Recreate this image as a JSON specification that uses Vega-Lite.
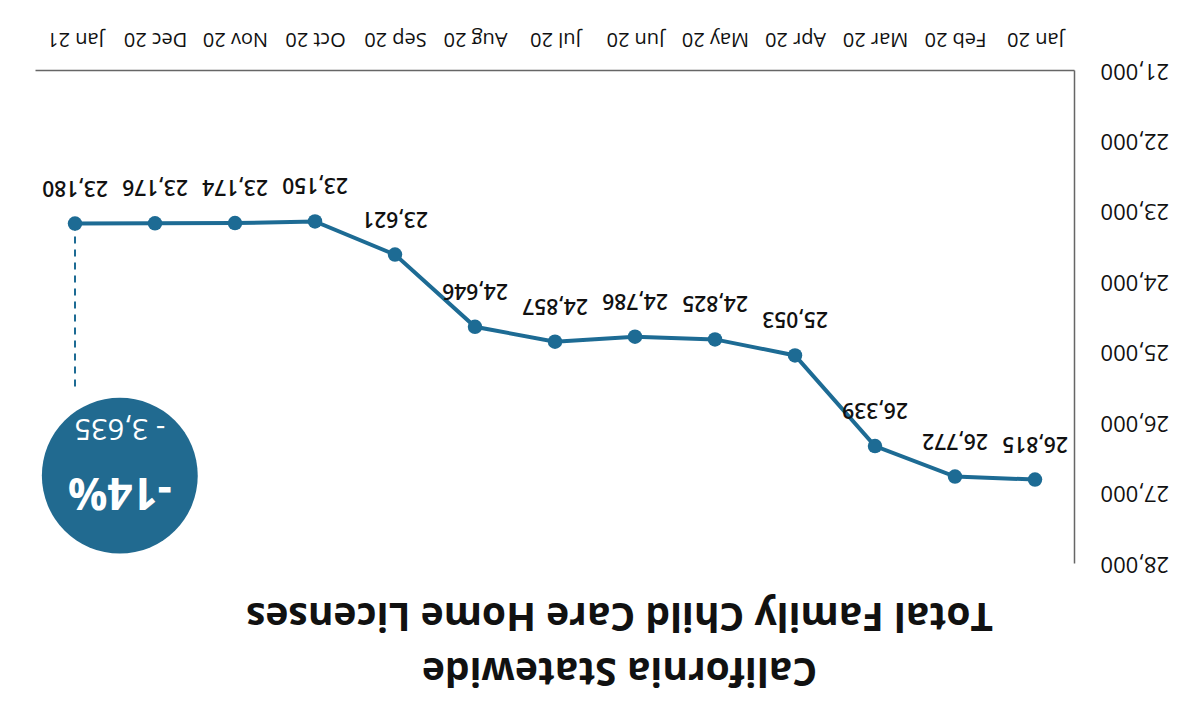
{
  "$schema": "https://vega.github.io/schema/vega-lite/v6.json",
  "width": 1039,
  "height": 493,
  "autosize": "none",
  "padding": {"left": 35, "top": 70, "right": 129, "bottom": 157},
  "background": "white",
  "config": {"view": {"stroke": null}, "font": "Open Sans"},
  "title": {
    "text": ["California Statewide", "Total Family Child Care Home Licenses"],
    "orient": "bottom",
    "angle": 180,
    "anchor": "middle",
    "font": "Open Sans",
    "fontSize": 39,
    "fontWeight": "bold",
    "lineHeight": 55,
    "color": "#111111",
    "offset": 115,
    "dx": -65
  },
  "datasets": {
    "licenses": [
      {"i": 0, "month": "Jan 20", "v": 26815},
      {"i": 1, "month": "Feb 20", "v": 26772},
      {"i": 2, "month": "Mar 20", "v": 26339},
      {"i": 3, "month": "Apr 20", "v": 25053},
      {"i": 4, "month": "May 20", "v": 24825},
      {"i": 5, "month": "Jun 20", "v": 24786},
      {"i": 6, "month": "Jul 20", "v": 24857},
      {"i": 7, "month": "Aug 20", "v": 24646},
      {"i": 8, "month": "Sep 20", "v": 23621},
      {"i": 9, "month": "Oct 20", "v": 23150},
      {"i": 10, "month": "Nov 20", "v": 23174},
      {"i": 11, "month": "Dec 20", "v": 23176},
      {"i": 12, "month": "Jan 21", "v": 23180}
    ],
    "guide": [{"i": 12, "v": 23180, "v2": 25500}],
    "badge": [{"i": 11.44, "v": 26760, "pct": "-14%", "change": "- 3,635"}]
  },
  "encoding": {
    "x": {
      "field": "i",
      "type": "quantitative",
      "scale": {"domain": [-0.4875, 12.5], "reverse": true, "nice": false, "zero": false},
      "axis": {
        "orient": "top",
        "values": [0, 1, 2, 3, 4, 5, 6, 7, 8, 9, 10, 11, 12],
        "labelExpr": "['Jan 20','Feb 20','Mar 20','Apr 20','May 20','Jun 20','Jul 20','Aug 20','Sep 20','Oct 20','Nov 20','Dec 20','Jan 21'][datum.value]",
        "labelAngle": 180,
        "labelAlign": "center",
        "labelBaseline": "middle",
        "labelFontSize": 20,
        "labelFont": "Open Sans",
        "labelFontWeight": 500,
        "labelColor": "#111111",
        "labelPadding": 32,
        "labelOverlap": false,
        "labelFlush": false,
        "ticks": false,
        "grid": false,
        "domainColor": "#666666",
        "domainWidth": 1.5,
        "title": null
      }
    },
    "y": {
      "field": "v",
      "type": "quantitative",
      "scale": {"domain": [21000, 28000], "reverse": true, "nice": false, "zero": false},
      "axis": {
        "orient": "right",
        "values": [21000, 22000, 23000, 24000, 25000, 26000, 27000, 28000],
        "labelExpr": "format(datum.value, ',.0f')",
        "labelAngle": 180,
        "labelAlign": "right",
        "labelBaseline": "middle",
        "labelFontSize": 22,
        "labelFont": "Open Sans",
        "labelColor": "#111111",
        "labelPadding": 26,
        "labelOverlap": false,
        "labelFlush": false,
        "ticks": false,
        "grid": false,
        "domainColor": "#666666",
        "domainWidth": 1.5,
        "title": null
      }
    }
  },
  "layer": [
    {
      "data": {"name": "guide"},
      "mark": {"type": "rule", "strokeDash": [7, 6], "strokeWidth": 2, "color": "#1d6b94"},
      "encoding": {"y2": {"field": "v2"}}
    },
    {
      "data": {"name": "licenses"},
      "mark": {"type": "line", "strokeWidth": 4, "color": "#1d6b94"}
    },
    {
      "data": {"name": "licenses"},
      "mark": {"type": "point", "filled": true, "size": 210, "opacity": 1, "color": "#1d6b94"}
    },
    {
      "data": {"name": "licenses"},
      "mark": {"type": "text", "angle": 180, "dy": 37, "fontSize": 21, "font": "Open Sans", "fontWeight": 600, "color": "#111111", "align": "center", "baseline": "middle"},
      "encoding": {"text": {"field": "v", "type": "quantitative", "format": ",.0f"}}
    },
    {
      "data": {"name": "badge"},
      "mark": {"type": "point", "filled": true, "size": 24300, "opacity": 1, "color": "#216a90"}
    },
    {
      "data": {"name": "badge"},
      "mark": {"type": "text", "angle": 180, "dy": -15, "fontSize": 44, "fontWeight": "bold", "font": "Open Sans", "color": "white", "align": "center", "baseline": "middle"},
      "encoding": {"text": {"field": "pct"}}
    },
    {
      "data": {"name": "badge"},
      "mark": {"type": "text", "angle": 180, "dy": 48, "fontSize": 29, "font": "Open Sans", "color": "white", "align": "center", "baseline": "middle"},
      "encoding": {"text": {"field": "change"}}
    }
  ]
}
